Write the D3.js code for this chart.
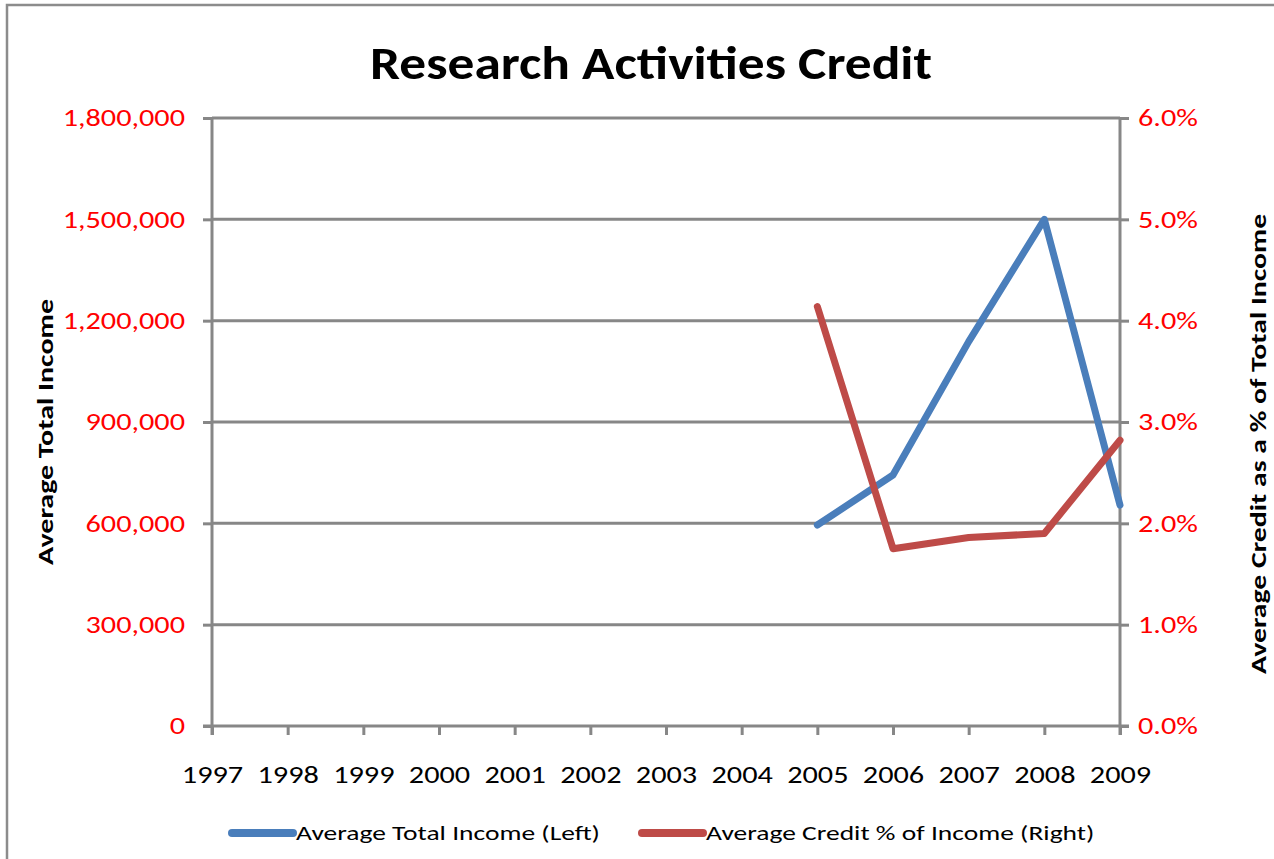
<!DOCTYPE html>
<html>
<head>
<meta charset="utf-8">
<script src="https://cdn.jsdelivr.net/npm/d3@7"></script>
<style>
	body { margin: 0; background: #fff; }
	svg { display: block; font-family: Carlito, Lato, 'Open Sans', sans-serif; }
</style>
</head>
<body>
<div id="chart"></div>
<script>
// values
const years = ["1997", "1998", "1999", "2000", "2001", "2002", "2003", "2004", "2005", "2006", "2007", "2008", "2009"];
const incomeYears = ["2005", "2006", "2007", "2008", "2009"];
const avgIncome = [595000, 743000, 1138000, 1500000, 654000];
const creditPct = [0.0414, 0.0175, 0.0186, 0.0190, 0.0282];
const leftTicks = [0, 300000, 600000, 900000, 1200000, 1500000, 1800000];
const rightTicks = [0, 0.01, 0.02, 0.03, 0.04, 0.05, 0.06];
const seriesNames = ["Average Total Income (Left)", "Average Credit % of Income (Right)"];

const width = 1274, height = 859;
const plot = { left: 212, right: 1120, top: 118, bottom: 726 };
const axisGrey = "#878787";
const blue = "#4A7EBB", red = "#BE4B48";

// the reference font runs wider than the fonts we have, so widen the text a bit
function stretch(sel, k) {
	sel.each(function() {
		let w = this.getComputedTextLength();
		d3.select(this)
			.attr("textLength", w * k)
			.attr("lengthAdjust", "spacingAndGlyphs");
	});
}

let svg = d3.select("#chart").append("svg")
	.attr("width", width)
	.attr("height", height);

// outer chart border
svg.append("rect")
	.attr("x", 7).attr("y", 5)
	.attr("width", width + 10).attr("height", height + 10)
	.attr("fill", "#fff")
	.attr("stroke", "#8c8c8c")
	.attr("stroke-width", 2.5);

let x = d3.scalePoint()
	.domain(years)
	.range([plot.left, plot.right]);

let yLeft = d3.scaleLinear()
	.domain([0, 1800000])
	.range([plot.bottom, plot.top]);

let yRight = d3.scaleLinear()
	.domain([0, 0.06])
	.range([plot.bottom, plot.top]);

// gridlines
svg.append("g")
	.selectAll("line")
	.data(leftTicks.slice(1))
	.join("line")
	.attr("x1", plot.left)
	.attr("x2", plot.right)
	.attr("y1", d => yLeft(d))
	.attr("y2", d => yLeft(d))
	.attr("stroke", axisGrey)
	.attr("stroke-width", 3);

// left axis
let leftAxis = svg.append("g")
	.attr("transform", `translate(${plot.left},0)`)
	.call(d3.axisLeft(yLeft).tickValues(leftTicks).tickFormat(d3.format(",")).tickSize(9).tickPadding(18));

// right axis
let rightAxis = svg.append("g")
	.attr("transform", `translate(${plot.right},0)`)
	.call(d3.axisRight(yRight).tickValues(rightTicks).tickFormat(d3.format(".1%")).tickSize(9).tickPadding(9));

// bottom axis
let bottomAxis = svg.append("g")
	.attr("transform", `translate(0,${plot.bottom})`)
	.call(d3.axisBottom(x).tickSize(9).tickPadding(31));

[leftAxis, rightAxis, bottomAxis].forEach(a => {
	a.select(".domain").remove();
	a.selectAll(".tick line")
		.attr("stroke", axisGrey)
		.attr("stroke-width", 3);
	a.selectAll("text")
		.attr("font-family", "Carlito, Lato, 'Open Sans', sans-serif")
		.attr("font-size", 24)
		.call(stretch, 1.26);
});
leftAxis.selectAll("text").attr("fill", "#ff0000");
rightAxis.selectAll("text").attr("fill", "#ff0000");
bottomAxis.selectAll("text").attr("fill", "#000");

// axis lines drawn on top of the ticks
svg.append("line")
	.attr("x1", plot.left).attr("x2", plot.left)
	.attr("y1", plot.top).attr("y2", plot.bottom + 9)
	.attr("stroke", axisGrey).attr("stroke-width", 3);
svg.append("line")
	.attr("x1", plot.right).attr("x2", plot.right)
	.attr("y1", plot.top).attr("y2", plot.bottom + 9)
	.attr("stroke", axisGrey).attr("stroke-width", 3);
svg.append("line")
	.attr("x1", plot.left - 9).attr("x2", plot.right + 9)
	.attr("y1", plot.bottom).attr("y2", plot.bottom)
	.attr("stroke", axisGrey).attr("stroke-width", 3);

// series lines
let incomeLine = d3.line()
	.x((d, i) => x(incomeYears[i]))
	.y(d => yLeft(d));

let creditLine = d3.line()
	.x((d, i) => x(incomeYears[i]))
	.y(d => yRight(d));

svg.append("path")
	.datum(avgIncome)
	.attr("d", incomeLine)
	.attr("fill", "none")
	.attr("stroke", blue)
	.attr("stroke-width", 7)
	.attr("stroke-linecap", "round")
	.attr("stroke-linejoin", "round");

svg.append("path")
	.datum(creditPct)
	.attr("d", creditLine)
	.attr("fill", "none")
	.attr("stroke", red)
	.attr("stroke-width", 7)
	.attr("stroke-linecap", "round")
	.attr("stroke-linejoin", "round");

// title
svg.append("text")
	.attr("x", 651)
	.attr("y", 79)
	.attr("text-anchor", "middle")
	.attr("font-size", 46)
	.attr("font-weight", "bold")
	.attr("textLength", 562)
	.attr("lengthAdjust", "spacingAndGlyphs")
	.text("Research Activities Credit");

// axis titles
svg.append("text")
	.attr("transform", "translate(53,432) rotate(-90)")
	.attr("text-anchor", "middle")
	.attr("font-size", 22)
	.attr("font-weight", "bold")
	.text("Average Total  Income")
	.call(stretch, 1.36);

svg.append("text")
	.attr("transform", "translate(1266,444) rotate(-90)")
	.attr("text-anchor", "middle")
	.attr("font-size", 22)
	.attr("font-weight", "bold")
	.text("Average Credit as a % of Total Income")
	.call(stretch, 1.35);

// legend
let legend = svg.append("g")
	.selectAll("g")
	.data(seriesNames)
	.join("g")
	.attr("transform", (d, i) => `translate(${i == 0 ? 232 : 642}, 833)`);

legend.append("line")
	.attr("x1", 0).attr("x2", 61)
	.attr("stroke", (d, i) => i == 0 ? blue : red)
	.attr("stroke-width", 8)
	.attr("stroke-linecap", "round");

legend.append("text")
	.attr("x", 64)
	.attr("dy", "0.35em")
	.attr("font-size", 21)
	.text(d => d)
	.call(stretch, 1.31);
</script>
</body>
</html>
